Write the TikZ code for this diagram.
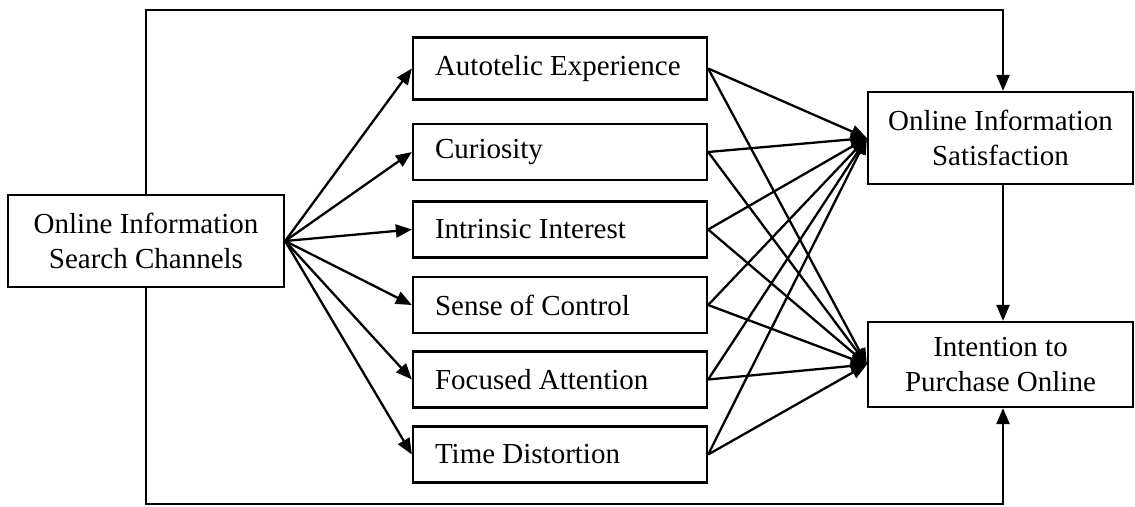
\documentclass[tikz,border=0pt]{standalone}
\usepackage{fontspec}
\setmainfont{Liberation Serif}
\usetikzlibrary{arrows.meta}
\begin{document}
\begin{tikzpicture}[x=1pt,y=-1pt,
  every node/.style={font=\fontsize{29}{35}\selectfont},
  box/.style={draw, line width=2.3pt, inner sep=0pt},
  midbox/.style={box, text width=250pt, inner xsep=22pt, align=flush left, minimum height=56pt},
  sidebox/.style={box, align=center},
  link/.style={line width=2.3pt},
  arr/.style={link, -{Triangle[length=16pt,width=13pt]}}]
\useasboundingbox (0,0) rectangle (1135,506);

% source box
\node[sidebox, minimum width=276pt, minimum height=92pt] (src) at (146,241)
  {Online Information\\Search Channels};

% flow dimensions
\node[midbox, minimum height=62pt] (m1) at (560,68.5) {Autotelic Experience};
\node[midbox] (m2) at (560,152) {Curiosity};
\node[midbox] (m3) at (560,229.5) {Intrinsic Interest};
\node[midbox] (m4) at (560,305) {Sense of Control};
\node[midbox] (m5) at (560,379.5) {Focused Attention};
\node[midbox] (m6) at (560,454.5) {Time Distortion};

% outcome boxes
\node[sidebox, minimum width=265pt, minimum height=92pt] (sat) at (1000.5,138)
  {Online Information\\Satisfaction};
\node[sidebox, minimum width=265pt, minimum height=85pt] (pur) at (1000.5,364.5)
  {Intention to\\Purchase Online};

% fan out from the source and into both outcomes
\foreach \m in {m1,m2,m3,m4,m5,m6}{
  \draw[arr] (src.east) -- (\m.west);
  \draw[arr] (\m.east) -- (sat.west);
  \draw[arr] (\m.east) -- (pur.west);
}

% direct paths around the top and bottom
\coordinate (topR) at (1003,10);
\coordinate (botR) at (1003,504);
\draw[arr] (src.north) |- (topR) -- (topR |- sat.north);
\draw[arr] (src.south) |- (botR) -- (botR |- pur.south);

% satisfaction to intention
\draw[arr] (topR |- sat.south) -- (topR |- pur.north);
\end{tikzpicture}
\end{document}
